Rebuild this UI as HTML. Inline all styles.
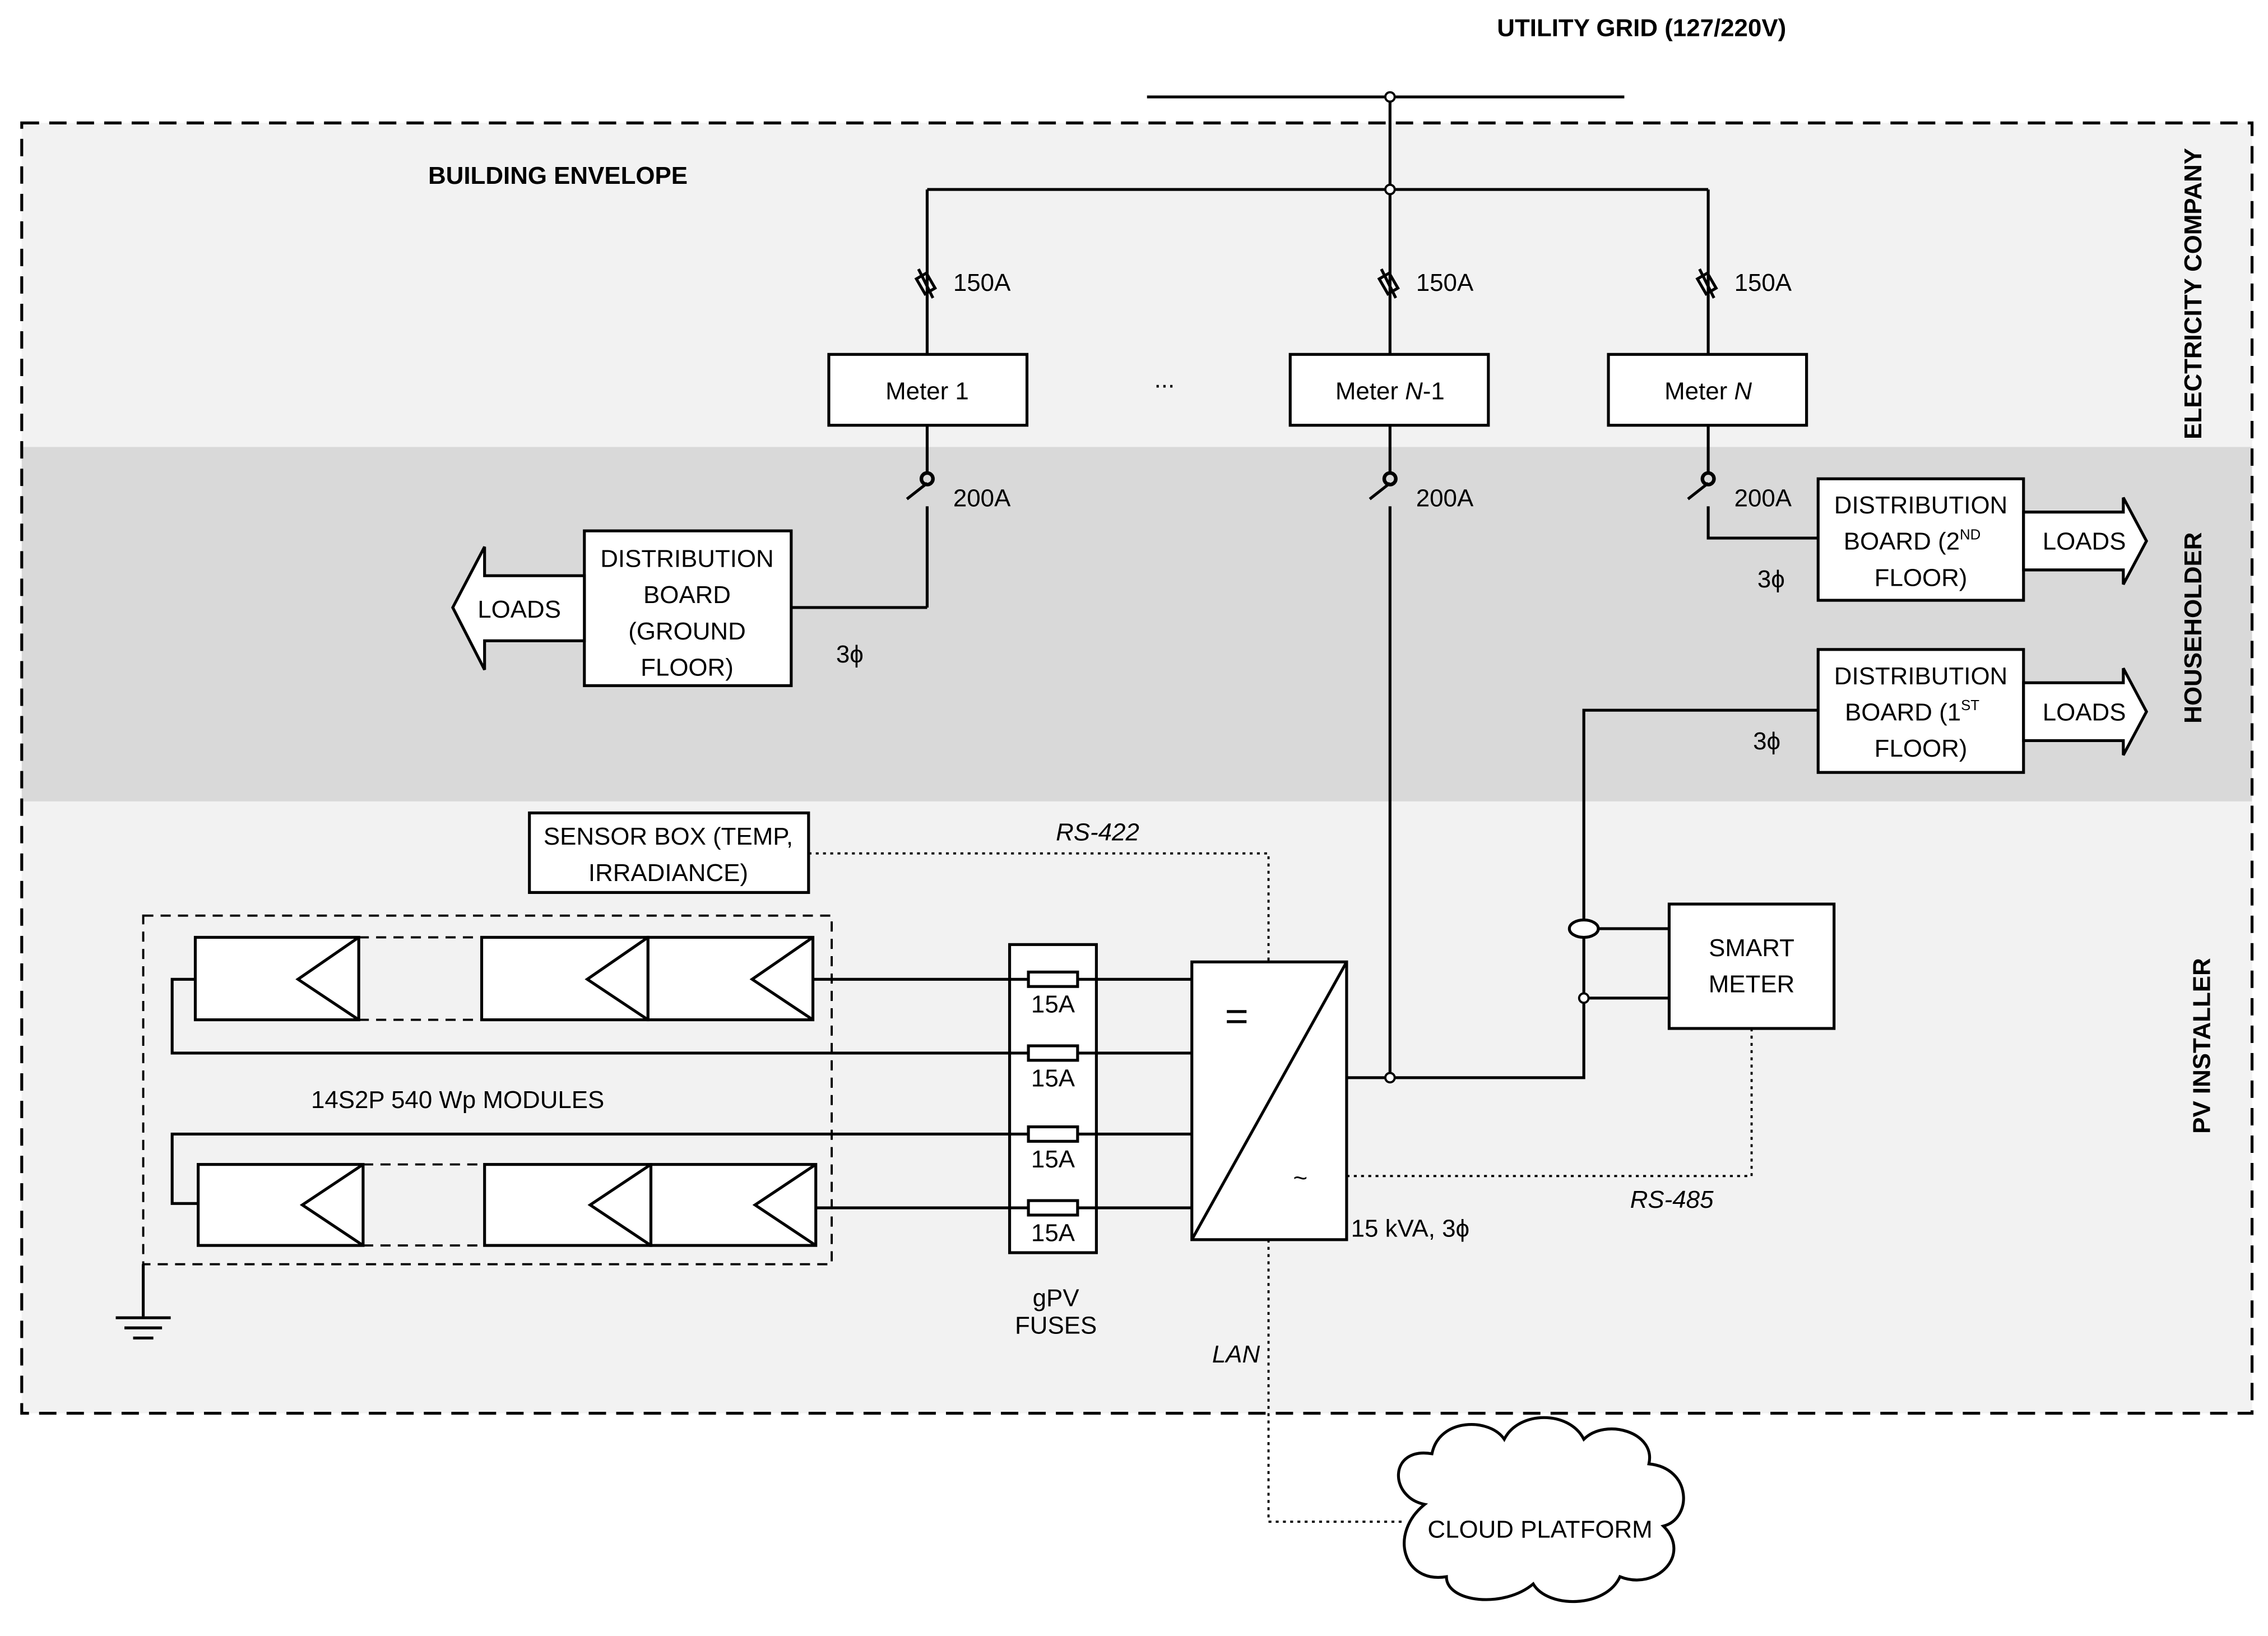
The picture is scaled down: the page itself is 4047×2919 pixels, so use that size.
<!DOCTYPE html>
<html><head><meta charset="utf-8"><style>
html,body{margin:0;padding:0;background:#fff;}
svg{display:block;}
text{font-family:"Liberation Sans",sans-serif;font-size:17px;fill:#000;}
.b{font-weight:bold;}
.i{font-style:italic;}
</style></head><body>
<svg width="4047" height="2919" viewBox="0 0 1568 1131" xmlns="http://www.w3.org/2000/svg">
<rect x="0" y="0" width="1568" height="1131" fill="#fff"/>
<rect x="15" y="85" width="1542" height="892" fill="#f2f2f2"/>
<rect x="15" y="309" width="1542" height="245" fill="#d9d9d9"/>
<rect x="15" y="85" width="1542" height="892" fill="none" stroke="#000" stroke-width="2" stroke-dasharray="12,7"/>
<text x="1035" y="25" class="b">UTILITY GRID (127/220V)</text>
<text x="296" y="127" class="b">BUILDING ENVELOPE</text>
<text class="b" transform="translate(1522,203) rotate(-90)" text-anchor="middle">ELECTRICITY COMPANY</text>
<text class="b" transform="translate(1522,434) rotate(-90)" text-anchor="middle">HOUSEHOLDER</text>
<text class="b" transform="translate(1528,723) rotate(-90)" text-anchor="middle">PV INSTALLER</text>
<g stroke="#000" stroke-width="2" fill="none">
<line x1="793" y1="67" x2="1123" y2="67"/>
<line x1="961" y1="67" x2="961" y2="131"/>
<line x1="641" y1="131" x2="1181" y2="131"/>
<line x1="641" y1="131" x2="641" y2="245"/>
<line x1="961" y1="131" x2="961" y2="245"/>
<line x1="1181" y1="131" x2="1181" y2="245"/>
<g><rect x="636" y="190" width="8" height="12" transform="rotate(-30 640 196)"/></g>
<g><rect x="956" y="190" width="8" height="12" transform="rotate(-30 960 196)"/></g>
<g><rect x="1176" y="190" width="8" height="12" transform="rotate(-30 1180 196)"/></g>
<line x1="635" y1="186" x2="645" y2="206"/>
<line x1="955" y1="186" x2="965" y2="206"/>
<line x1="1175" y1="186" x2="1185" y2="206"/>
<rect x="573" y="245" width="137" height="49" fill="#fff"/>
<rect x="892" y="245" width="137" height="49" fill="#fff"/>
<rect x="1112" y="245" width="137" height="49" fill="#fff"/>
<line x1="641" y1="294" x2="641" y2="326"/>
<line x1="641" y1="334" x2="627" y2="345" />
<line x1="641" y1="350" x2="641" y2="420"/>
<circle cx="641" cy="331" r="4" stroke-width="2.5"/>
<line x1="961" y1="294" x2="961" y2="326"/>
<line x1="961" y1="334" x2="947" y2="345"/>
<line x1="961" y1="350" x2="961" y2="745"/>
<circle cx="961" cy="331" r="4" stroke-width="2.5"/>
<line x1="1181" y1="294" x2="1181" y2="326"/>
<line x1="1181" y1="334" x2="1167" y2="345"/>
<polyline points="1181,350 1181,372 1257,372"/>
<circle cx="1181" cy="331" r="4" stroke-width="2.5"/>
<polyline points="641,420 547,420"/>
<rect x="404" y="367" width="143" height="107" fill="#fff"/>
<rect x="1257" y="331" width="142" height="84" fill="#fff"/>
<rect x="1257" y="449" width="142" height="85" fill="#fff"/>
<polygon points="404,398 404,443 335,443 335,463 313,420 335,378 335,398" fill="#fff"/>
<polygon points="1399,354 1468,354 1468,344 1484,374 1468,404 1468,394 1399,394" fill="#fff"/>
<polygon points="1399,472 1468,472 1468,462 1484,492 1468,522 1468,512 1399,512" fill="#fff"/>
<polyline points="1257,491 1095,491 1095,745 931,745"/>
<line x1="1095" y1="642" x2="1154" y2="642"/>
<line x1="1095" y1="690" x2="1154" y2="690"/>
<ellipse cx="1095" cy="642" rx="10" ry="6" fill="#fff"/>
<rect x="1154" y="625" width="114" height="86" fill="#fff"/>
<rect x="824" y="665" width="107" height="192" fill="#fff"/>
<line x1="824" y1="857" x2="931" y2="665"/>
<rect x="698" y="653" width="60" height="213" fill="#fff"/>
<rect x="99" y="633" width="476" height="241" stroke-dasharray="7,5" stroke-width="1.5"/>
<line x1="562" y1="677" x2="824" y2="677"/>
<polyline points="135,677 119,677 119,728 824,728"/>
<polyline points="824,784 119,784 119,832 137,832"/>
<line x1="564" y1="835" x2="824" y2="835"/>
<rect x="135" y="648" width="113" height="57" fill="#fff"/>
<rect x="333" y="648" width="115" height="57" fill="#fff"/>
<rect x="448" y="648" width="114" height="57" fill="#fff"/>
<rect x="137" y="805" width="114" height="56" fill="#fff"/>
<rect x="335" y="805" width="115" height="56" fill="#fff"/>
<rect x="450" y="805" width="114" height="56" fill="#fff"/>
<polyline points="248,648 333,648" stroke-dasharray="7,5" stroke-width="1.5"/>
<polyline points="248,705 333,705" stroke-dasharray="7,5" stroke-width="1.5"/>
<polyline points="251,805 335,805" stroke-dasharray="7,5" stroke-width="1.5"/>
<polyline points="251,861 335,861" stroke-dasharray="7,5" stroke-width="1.5"/>
<polyline points="248,648 206,677 248,705"/>
<polyline points="448,648 406,677 448,705"/>
<polyline points="562,648 520,677 562,705"/>
<polyline points="251,805 209,833 251,861"/>
<polyline points="450,805 408,833 450,861"/>
<polyline points="564,805 522,833 564,861"/>
<rect x="711" y="672" width="34" height="10" fill="#fff"/>
<rect x="711" y="723" width="34" height="10" fill="#fff"/>
<rect x="711" y="779" width="34" height="10" fill="#fff"/>
<rect x="711" y="830" width="34" height="10" fill="#fff"/>
<line x1="99" y1="874" x2="99" y2="910"/>
<line x1="80" y1="911" x2="118" y2="911"/>
<line x1="86" y1="918" x2="112" y2="918"/>
<line x1="92" y1="925" x2="106" y2="925"/>
<rect x="366" y="562" width="193" height="55" fill="#fff"/>
</g>
<g stroke="#000" stroke-width="1.5" fill="none" stroke-dasharray="2,3">
<polyline points="559,590 877,590 877,665"/>
<polyline points="931,813 1211,813 1211,711"/>
<polyline points="877,857 877,1052 970,1052"/>
</g>
<g fill="#000">
<circle cx="961" cy="67" r="4"/><circle cx="961" cy="131" r="4"/>
<circle cx="961" cy="745" r="4"/><circle cx="1095" cy="690" r="4"/>
</g>
<circle cx="961" cy="67" r="2.5" fill="#fff"/><circle cx="961" cy="131" r="2.5" fill="#fff"/>
<circle cx="961" cy="745" r="2.5" fill="#fff"/><circle cx="1095" cy="690" r="2.5" fill="#fff"/>
<path d="M985,1040 C960,1035 960,1000 990,1005 C995,980 1030,980 1040,995 C1050,975 1085,975 1095,995 C1110,980 1145,990 1140,1012 C1170,1015 1170,1050 1150,1055 C1170,1075 1145,1100 1120,1090 C1110,1112 1070,1112 1060,1095 C1040,1112 1000,1108 1000,1090 C970,1095 960,1060 985,1040 Z" fill="#fff" stroke="#000" stroke-width="2"/>
<text x="987" y="1063">CLOUD PLATFORM</text>
<text x="659" y="201">150A</text><text x="979" y="201">150A</text><text x="1199" y="201">150A</text>
<text x="641" y="276" text-anchor="middle">Meter 1</text>
<text x="961" y="276" text-anchor="middle">Meter <tspan class="i">N</tspan>-1</text>
<text x="1181" y="276" text-anchor="middle">Meter <tspan class="i">N</tspan></text>
<text x="798" y="268">...</text>
<text x="659" y="350">200A</text><text x="979" y="350">200A</text><text x="1199" y="350">200A</text>
<text x="475" y="392" text-anchor="middle">DISTRIBUTION</text>
<text x="475" y="417" text-anchor="middle">BOARD</text>
<text x="475" y="442" text-anchor="middle">(GROUND</text>
<text x="475" y="467" text-anchor="middle">FLOOR)</text>
<text x="359" y="427" text-anchor="middle">LOADS</text>
<text x="578" y="458">3ϕ</text>
<text x="1328" y="355" text-anchor="middle">DISTRIBUTION</text>
<text x="1322" y="380" text-anchor="middle">BOARD (2<tspan font-size="10" dy="-7">ND</tspan></text>
<text x="1328" y="405" text-anchor="middle">FLOOR)</text>
<text x="1441" y="380" text-anchor="middle">LOADS</text>
<text x="1215" y="406">3ϕ</text>
<text x="1328" y="473" text-anchor="middle">DISTRIBUTION</text>
<text x="1322" y="498" text-anchor="middle">BOARD (1<tspan font-size="10" dy="-7">ST</tspan></text>
<text x="1328" y="523" text-anchor="middle">FLOOR)</text>
<text x="1441" y="498" text-anchor="middle">LOADS</text>
<text x="1212" y="518">3ϕ</text>
<text x="1211" y="661" text-anchor="middle">SMART</text>
<text x="1211" y="686" text-anchor="middle">METER</text>
<text x="462" y="584" text-anchor="middle">SENSOR BOX (TEMP,</text>
<text x="462" y="609" text-anchor="middle">IRRADIANCE)</text>
<text x="730" y="581" class="i">RS-422</text>
<text x="1127" y="835" class="i">RS-485</text>
<text x="838" y="942" class="i">LAN</text>
<text x="855" y="712" text-anchor="middle" style="font-size:28px">=</text>
<text x="899" y="820" text-anchor="middle">~</text>
<text x="934" y="855">15 kVA, 3ϕ</text>
<text x="728" y="700" text-anchor="middle">15A</text>
<text x="728" y="751" text-anchor="middle">15A</text>
<text x="728" y="807" text-anchor="middle">15A</text>
<text x="728" y="858" text-anchor="middle">15A</text>
<text x="730" y="903" text-anchor="middle">gPV</text>
<text x="730" y="922" text-anchor="middle">FUSES</text>
<text x="215" y="766">14S2P 540 Wp MODULES</text>
</svg>
</body></html>
